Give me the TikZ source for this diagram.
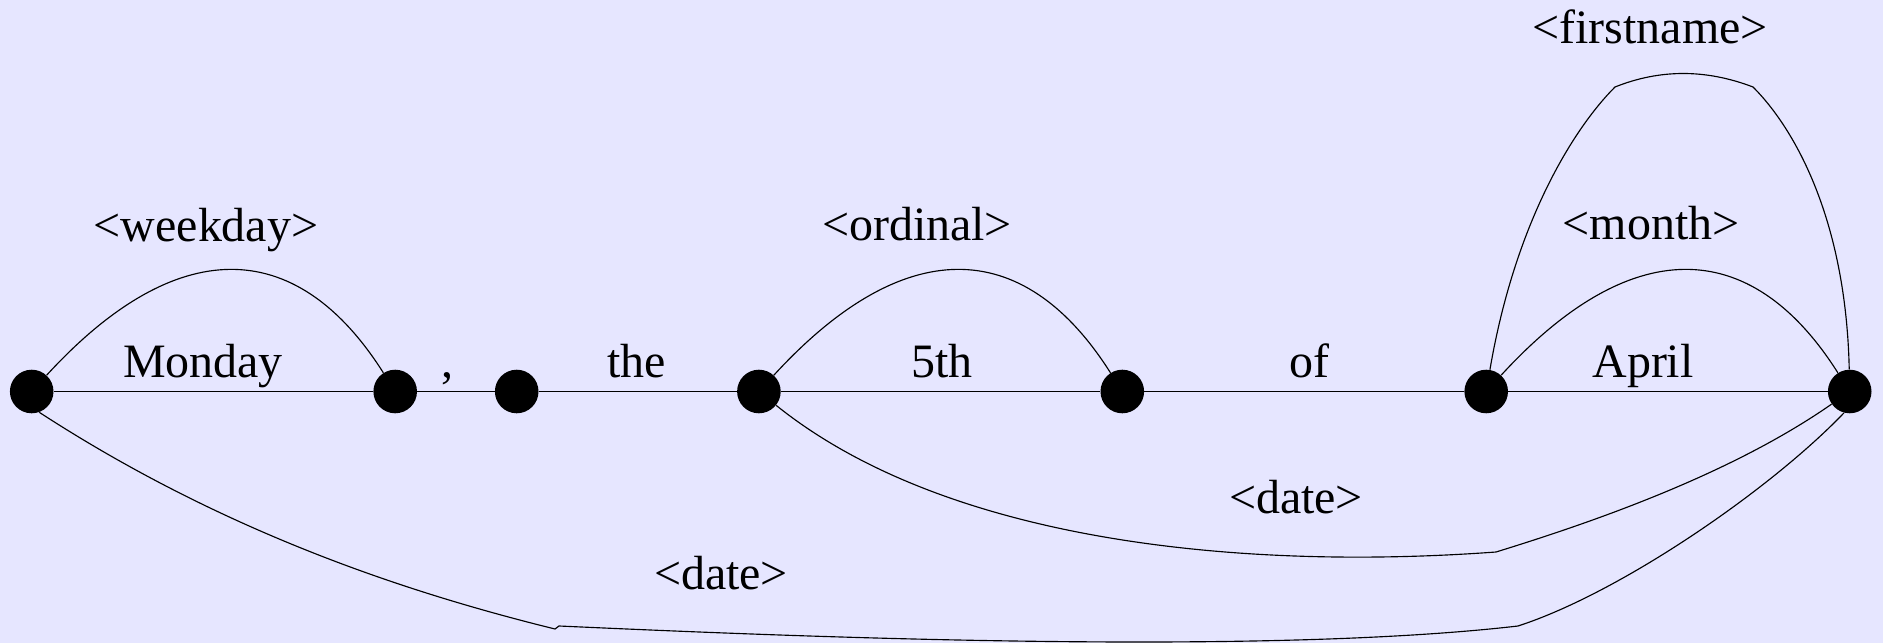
\documentclass[tikz,border=0pt]{standalone}
\usepackage{fontspec}
\setmainfont{Liberation Serif}
\definecolor{pagebg}{RGB}{230,230,255}

\begin{document}
\begin{tikzpicture}[x=0.02cm, y=0.02cm,
    state/.style={circle, fill=black, inner sep=0pt, minimum size=0.872cm},
    word/.style={anchor=base, inner sep=0pt, font=\fontsize{27.3}{32}\selectfont},
    main/.style={line width=0.9pt},
    link/.style={line width=0.65pt}]

    % Background
    \fill[pagebg] (0,0) rectangle (1883,643);
    \useasboundingbox (0,0) rectangle (1883,643);

    % States
    \node[state] (q0) at (31.7,251.5) {};
    \node[state] (q1) at (395.2,251.5) {};
    \node[state] (q2) at (516.7,251.5) {};
    \node[state] (q3) at (758.9,251.5) {};
    \node[state] (q4) at (1122.3,251.5) {};
    \node[state] (q5) at (1486.2,251.5) {};
    \node[state] (q6) at (1849.7,251.5) {};

    % Sentence
    \draw[main] (q0) -- (q1) -- (q2) -- (q3) -- (q4) -- (q5) -- (q6);
    \node[word] (wMonday) at (203,266) {Monday};
    \node[word] (wComma) at (447,266) {,};
    \node[word] (wThe) at (636.5,266) {the};
    \node[word] (wFifth) at (942,266) {5th};
    \node[word] (wOf) at (1309.5,266) {of};
    \node[word] (wApril) at (1643,266) {April};

    % Short rules over one word
    \foreach \a/\b in {q0/q1, q3/q4, q5/q6}
        \draw[link] (\a) .. controls +(143,156) and +(-100,158) .. (\b);
    \node[word] (lWeekday) at (206,401.5) {<weekday>};
    \node[word] (lOrdinal) at (917,402.3) {<ordinal>};
    \node[word] (lMonth) at (1651,403) {<month>};

    % Firstname rule
    \draw[link] (q5) .. controls (1515,420) and (1573,514) .. (1615,556)
        .. controls (1660,574) and (1706,574) .. (1753,556)
        .. controls (1795,514) and (1846,423) .. (q6);
    \node[word] (lFirstname) at (1650,599.7) {<firstname>};

    % Date rule from "5th"
    \draw[link] (q3) .. controls (950,98) and (1250,73) .. (1496,91)
        .. controls (1590,120) and (1730,168) .. (q6);
    \node[word] (lDateA) at (1296,129.7) {<date>};

    % Date rule from "Monday"
    \draw[link] (q0.-70) .. controls (225,110) and (409,50) .. (555,14) -- (559,17)
        .. controls (760,8) and (1250,-14) .. (1518,17)
        .. controls (1620,50) and (1770,153) .. (q6.-105);
    \node[word] (lDateB) at (721,53.7) {<date>};

\end{tikzpicture}
\end{document}
